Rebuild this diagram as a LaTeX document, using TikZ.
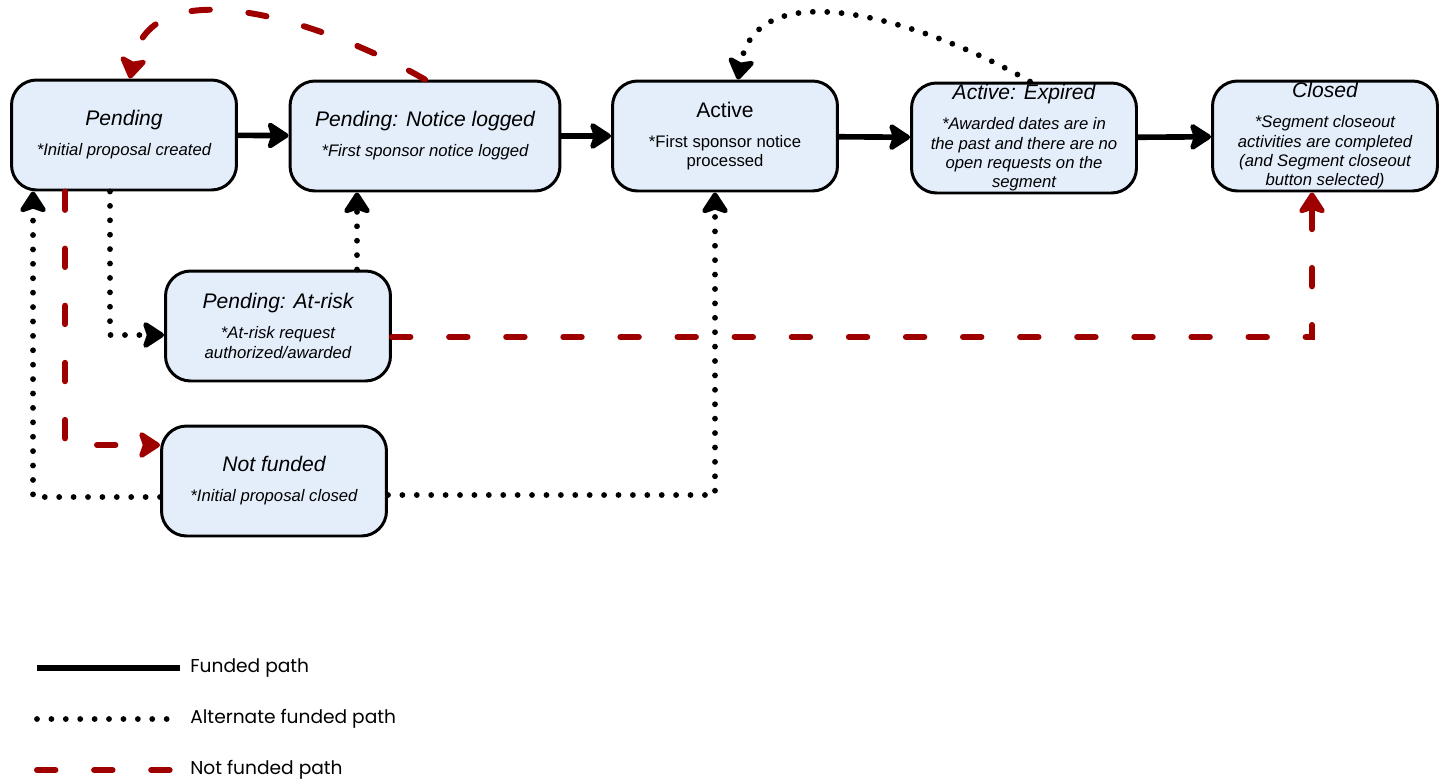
\documentclass[tikz,border=0pt]{standalone}
\usepackage{fontspec}
\setmainfont{Liberation Sans}
\newfontfamily\legfont{Poppins}
\usetikzlibrary{arrows.meta}
\definecolor{boxblue}{RGB}{228,238,251}
\definecolor{nfred}{RGB}{158,0,0}
\tikzstyle{phase}=[draw, rounded corners=0.5cm, fill=boxblue, line width=1.7pt, minimum width=4.5cm, minimum height=2.2cm, inner ysep=1pt, align=center, font=\itshape\fontsize{9.5}{11}\selectfont]
\tikzstyle{funded}=[line width=3.2pt, -{Stealth[length=14pt,width=18pt,inset=3pt,round]}]
\tikzstyle{altfund}=[line width=3.3pt, line cap=round, dash pattern=on 0pt off 8.2pt, -{Stealth[length=14pt,width=18pt,inset=3pt,round]}]
\tikzstyle{nofund}=[nfred, line width=3.4pt, line cap=round, dash pattern=on 10.5pt off 22pt, -{Stealth[length=14pt,width=18pt,inset=3pt,round]}]
\tikzstyle{legend}=[anchor=west, inner xsep=0.2cm, font=\legfont\fontsize{10.6}{12}\selectfont]
\newcommand{\phase}{\node[phase]}
\newcommand{\ttl}[1]{{\fontsize{12}{15}\selectfont #1}\\[6pt]}

\begin{document}
\begin{tikzpicture}[x=0.02cm, y=-0.02cm]
\useasboundingbox (0,0) rectangle (1446,782);
\phase (pend) at (124,135) {\ttl{Pending}*Initial proposal created};
\phase[minimum width=5.4cm] (notice) at (425,136) {\ttl{Pending: Notice logged}*First sponsor notice logged};
\phase[font=\fontsize{9.5}{11}\selectfont] (act) at (725,136) {\ttl{Active}*First sponsor notice\\processed};
\phase[inner ysep=0pt] (exp) at (1024,138) {\ttl{Active: Expired}*Awarded dates are in\\the past and there are no\\open requests on the\\segment};
\phase[inner ysep=0pt] (closed) at (1325,136) {\ttl{Closed}*Segment closeout\\activities are completed\\(and Segment closeout\\button selected)};
\phase (atrisk) at (278,326) {\ttl{Pending: At-risk}*At-risk request\\authorized/awarded};
\phase (nf) at (274,481) {\ttl{Not funded}*Initial proposal closed};
%%funded path
\draw[funded] (pend) -- (notice);
\draw[funded] (notice) -- (act);
\draw[funded] (act) -- (exp);
\draw[funded] (exp) -- (closed);
%%alternate funded path
\draw[altfund] ([xshift=0.12cm]exp.north) to[out=150,in=80] ([xshift=0.26cm]act.north);
\draw[altfund] ([xshift=-0.28cm]pend.south) |- ([yshift=-0.18cm]atrisk.west);
\draw[altfund] ([xshift=1.58cm]atrisk.north) -- ([xshift=-1.36cm]notice.south);
\draw[altfund] ([yshift=-0.32cm]nf.west) -| ([xshift=-1.82cm]pend.south);
\draw[altfund] ([yshift=-0.28cm]nf.east) -| ([xshift=-0.2cm]act.south);
%not funded path
\draw[nofund] (notice.north) to[out=150,in=80] ([xshift=0.12cm]pend.north);
\draw[nofund] ([xshift=-1.18cm]pend.south) |- ([yshift=0.72cm]nf.west);
\draw[nofund] ([yshift=-0.22cm]atrisk.east) -| ([xshift=-0.26cm]closed.south);
%legend
\foreach \k/\s/\t/\y in {1/funded/Funded path/668, 2/altfund/Alternate funded path/719, 3/nofund/Not funded path/770}{
	\coordinate (l\k) at (37,\y);
	\node[legend] (k\k) at (180,\y) {\t};
	\draw[\s, -] (l\k) -- (k\k);
	}
\end{tikzpicture}
\end{document}
